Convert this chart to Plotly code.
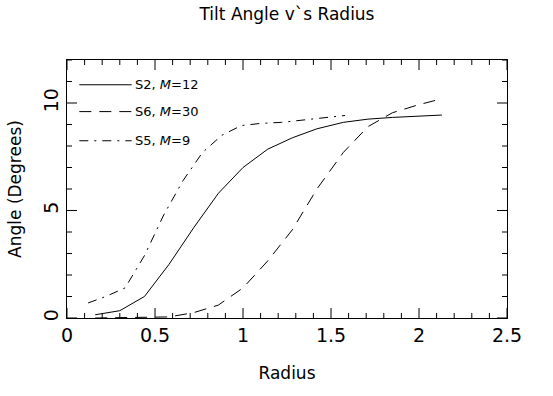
import plotly.graph_objects as go

# Tilt angle (degrees) against radius for three runs
radius_s2 = [0.16, 0.30, 0.44, 0.58, 0.72, 0.86, 1.00, 1.14, 1.28, 1.42, 1.57, 1.71, 1.85, 1.99, 2.13]
angle_s2 = [0.15, 0.34, 1.0, 2.5, 4.2, 5.8, 7.0, 7.85, 8.38, 8.8, 9.1, 9.25, 9.33, 9.4, 9.44]

radius_s6 = [0.16, 0.30, 0.44, 0.58, 0.72, 0.86, 1.00, 1.14, 1.28, 1.42, 1.57, 1.71, 1.85, 1.99, 2.13]
angle_s6 = [0.0, 0.01, 0.02, 0.05, 0.25, 0.6, 1.4, 2.65, 4.1, 6.0, 7.7, 8.9, 9.55, 9.9, 10.2]

radius_s5 = [0.12, 0.22, 0.33, 0.44, 0.55, 0.66, 0.77, 0.88, 0.99, 1.10, 1.22, 1.34, 1.46, 1.58]
angle_s5 = [0.70, 1.0, 1.40, 2.9, 4.8, 6.4, 7.7, 8.5, 8.95, 9.05, 9.1, 9.2, 9.3, 9.42]

series_labels = ["S2, <i>M</i>=12", "S6, <i>M</i>=30", "S5, <i>M</i>=9"]
series_dash = ["solid", "12px,8px", "9px,6px,2px,6px"]

x_range = [0, 2.5]
y_range = [0, 12]
x_major = [0, 0.5, 1, 1.5, 2, 2.5]
x_minor = [round(i * 0.1, 1) for i in range(26)]
y_major = [0, 5, 10]
y_minor = list(range(13))

FONT = "DejaVu Sans"
INK = "black"
MAJOR_LEN, MINOR_LEN = 10, 5

fig = go.Figure()
for xs, ys, dash in zip([radius_s2, radius_s6, radius_s5],
                        [angle_s2, angle_s6, angle_s5], series_dash):
    fig.add_trace(go.Scatter(x=xs, y=ys, mode="lines",
                             line=dict(color=INK, width=1, dash=dash),
                             showlegend=False, hoverinfo="skip"))

# hand-built key in the upper-left corner of the frame
key_rows = [0.904, 0.800, 0.687]
for label, dash, yk in zip(series_labels, series_dash, key_rows):
    fig.add_shape(type="line", xref="paper", yref="paper",
                  x0=0.028, x1=0.147, y0=yk, y1=yk,
                  line=dict(color=INK, width=1, dash=dash))
    fig.add_annotation(xref="paper", yref="paper", x=0.150, y=yk,
                       xanchor="left", yanchor="middle", showarrow=False,
                       text=label, font=dict(family=FONT, size=13, color=INK))

# inward tick marks on all four sides of the frame, placed on the data scales
tick_line = dict(color=INK, width=1)
for xv in x_minor:
    length = MAJOR_LEN if any(abs(xv - m) < 1e-9 for m in x_major) else MINOR_LEN
    for anchor, sign in ((0, 1), (1, -1)):
        fig.add_shape(type="line", xref="x", yref="paper", ysizemode="pixel",
                      yanchor=anchor, x0=xv, x1=xv, y0=0, y1=sign * length,
                      line=tick_line)
for yv in y_minor:
    length = MAJOR_LEN if yv in y_major else MINOR_LEN
    for anchor, sign in ((0, 1), (1, -1)):
        fig.add_shape(type="line", xref="paper", yref="y", xsizemode="pixel",
                      xanchor=anchor, x0=0, x1=sign * length, y0=yv, y1=yv,
                      line=tick_line)

axis_common = dict(
    showgrid=False, zeroline=False, showline=True, linecolor=INK, linewidth=1,
    mirror=True, ticks="",
    tickfont=dict(family=FONT, size=19, color=INK),
    automargin=False, tickmode="array",
)

fig.update_xaxes(range=x_range, tickvals=x_major, ticktext=[f"{v:g}" for v in x_major],
                 title=dict(text="Radius", standoff=22,
                            font=dict(family=FONT, size=17, color=INK)),
                 **axis_common)
fig.update_yaxes(range=y_range, tickvals=y_major, ticktext=[str(v) for v in y_major],
                 tickangle=-90,
                 title=dict(text="Angle (Degrees)", standoff=14,
                            font=dict(family=FONT, size=17, color=INK)),
                 **axis_common)

fig.update_layout(
    width=553, height=396,
    margin=dict(l=67, r=46, t=60, b=78),
    paper_bgcolor="white", plot_bgcolor="white",
    title=dict(text="Tilt Angle v`s Radius", x=0.519, xanchor="center",
               y=0.965, yanchor="middle",
               font=dict(family=FONT, size=17, color=INK)),
)

fig.write_html("out.html")
